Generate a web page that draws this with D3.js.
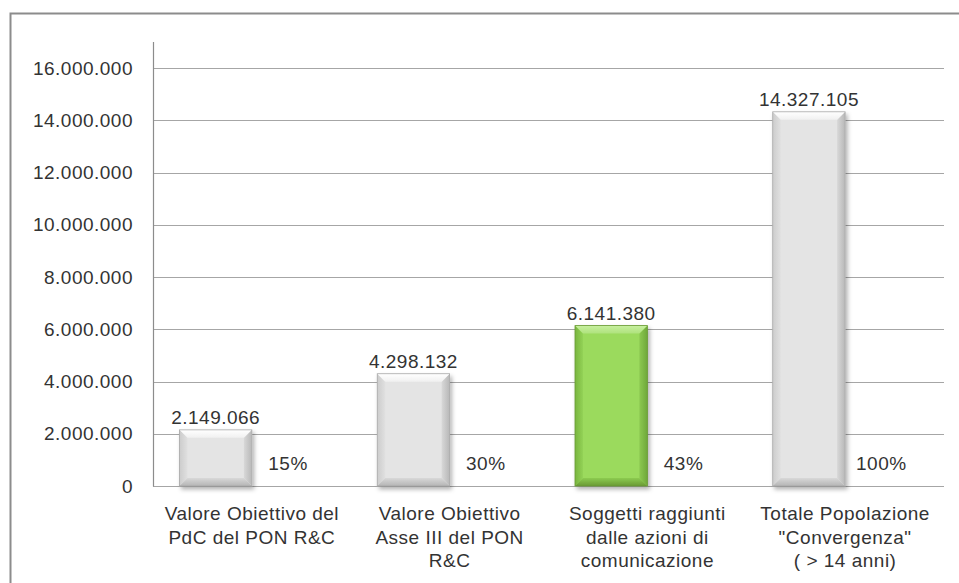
<!DOCTYPE html>
<html>
<head>
<meta charset="utf-8">
<script src="https://cdn.jsdelivr.net/npm/d3@7"></script>
<style>
  body { margin: 0; background: #fff; }
  svg { display: block; font-family: "Liberation Sans", Arial, sans-serif; }
  svg text { letter-spacing: 0.5px; }
</style>
</head>
<body>
<script>
// chart data
var categories = [
  ["Valore Obiettivo del", "PdC del PON R&C"],
  ["Valore Obiettivo", "Asse III del PON", "R&C"],
  ["Soggetti raggiunti", "dalle azioni di", "comunicazione"],
  ["Totale Popolazione", "\"Convergenza\"", "( > 14 anni)"]
];
var values = [2149066, 4298132, 6141380, 14327105];
var percents = ["15%", "30%", "43%", "100%"];
var highlighted = [false, false, true, false];
var yTicks = [0, 2000000, 4000000, 6000000, 8000000, 10000000, 12000000, 14000000, 16000000];

var width = 959, height = 583;
var margin = { left: 153, right: 15, top: 42, bottom: 97 };
var fontSize = 19;
var textColor = "#333";

var it = d3.formatLocale({ decimal: ",", thousands: ".", grouping: [3], currency: ["€", ""] });
var fmt = it.format(",d");

var svg = d3.select("body").append("svg")
  .attr("width", width)
  .attr("height", height);

var defs = svg.append("defs");
var shadow = defs.append("filter").attr("id", "shadow")
  .attr("x", "-20%").attr("y", "-20%").attr("width", "150%").attr("height", "150%");
shadow.append("feDropShadow")
  .attr("dx", 2).attr("dy", 3).attr("stdDeviation", 2)
  .attr("flood-color", "#000").attr("flood-opacity", 0.3);

// bevel palettes: [edge, inner] for each side
var palettes = {
  gray: { base: "#e4e4e4", top: ["#ffffff", "#f0f0f0"], bottom: ["#b5b5b5", "#d8d8d8"],
          left: ["#cccccc", "#e0e0e0"], right: ["#b8b8b8", "#d8d8d8"], edge: "#a9a9a9" },
  green: { base: "#9bda5d", top: ["#c8f0a0", "#aee27c"], bottom: ["#6a9a36", "#8ccb50"],
           left: ["#78b53e", "#93d256"], right: ["#6fa83a", "#8cc851"], edge: "#6a9a35" }
};

function gradient(id, dir, stops) {
  var g = defs.append("linearGradient").attr("id", id)
    .attr("x1", dir[0]).attr("y1", dir[1]).attr("x2", dir[2]).attr("y2", dir[3]);
  g.append("stop").attr("offset", "0%").attr("stop-color", stops[0]);
  g.append("stop").attr("offset", "100%").attr("stop-color", stops[1]);
}
Object.keys(palettes).forEach(function (k) {
  var p = palettes[k];
  gradient(k + "-top", [0, 0, 0, 1], p.top);
  gradient(k + "-bottom", [0, 1, 0, 0], p.bottom);
  gradient(k + "-left", [0, 0, 1, 0], p.left);
  gradient(k + "-right", [1, 0, 0, 0], p.right);
});

// outer frame (cut by the picture edge)
svg.append("rect")
  .attr("x", 10.5).attr("y", 13.5)
  .attr("width", 1000).attr("height", 1000)
  .attr("fill", "none")
  .attr("stroke", "#8c8c8c")
  .attr("stroke-width", 2);

var x = d3.scaleBand()
  .domain(d3.range(categories.length))
  .range([margin.left, width - margin.right]);

// two series per category: the value and its (invisible) percentage partner
var x1 = d3.scaleBand()
  .domain(["value", "pct"])
  .range([0, x.bandwidth()])
  .paddingInner(0)
  .paddingOuter(0.366);

var y = d3.scaleLinear()
  .domain([0, 17000000])
  .range([height - margin.bottom, margin.top]);

// gridlines
svg.append("g")
  .selectAll("line")
  .data(yTicks)
  .enter()
  .append("line")
  .attr("x1", margin.left)
  .attr("x2", width - margin.right)
  .attr("y1", function (d) { return Math.round(y(d)) + 0.5; })
  .attr("y2", function (d) { return Math.round(y(d)) + 0.5; })
  .attr("stroke", "#a6a6a6")
  .attr("stroke-width", 1.2);

// y axis line
svg.append("line")
  .attr("x1", margin.left + 0.5).attr("x2", margin.left + 0.5)
  .attr("y1", y.range()[1]).attr("y2", Math.round(y(0)) + 0.5)
  .attr("stroke", "#8c8c8c")
  .attr("stroke-width", 1.2);

// y tick labels
svg.append("g")
  .selectAll("text")
  .data(yTicks)
  .enter()
  .append("text")
  .attr("x", margin.left - 20)
  .attr("y", function (d) { return y(d); })
  .attr("dy", "0.35em")
  .attr("text-anchor", "end")
  .style("font-size", fontSize + "px")
  .style("fill", textColor)
  .text(function (d) { return fmt(d); });

// bars with a bevel look
var bevel = 8;
var bars = svg.append("g")
  .selectAll("g")
  .data(values)
  .enter()
  .append("g")
  .attr("filter", "url(#shadow)");

bars.each(function (d, i) {
  var g = d3.select(this);
  var x0 = x(i) + x1("value");
  var xr = x0 + x1.bandwidth();
  var y0 = y(d);
  var yb = y(0);
  var k = highlighted[i] ? "green" : "gray";
  var c = palettes[k];

  g.append("rect")
    .attr("x", x0).attr("y", y0)
    .attr("width", xr - x0).attr("height", yb - y0)
    .attr("fill", c.base);

  var poly = function (pts, fill) {
    g.append("polygon")
      .attr("points", pts.map(function (p) { return p.join(","); }).join(" "))
      .attr("fill", fill);
  };
  poly([[x0, y0], [x0 + bevel, y0 + bevel], [x0 + bevel, yb - bevel], [x0, yb]], "url(#" + k + "-left)");
  poly([[xr, y0], [xr - bevel, y0 + bevel], [xr - bevel, yb - bevel], [xr, yb]], "url(#" + k + "-right)");
  poly([[x0, y0], [xr, y0], [xr - bevel, y0 + bevel], [x0 + bevel, y0 + bevel]], "url(#" + k + "-top)");
  poly([[x0, yb], [xr, yb], [xr - bevel, yb - bevel], [x0 + bevel, yb - bevel]], "url(#" + k + "-bottom)");

  g.append("rect")
    .attr("x", x0).attr("y", y0)
    .attr("width", xr - x0).attr("height", yb - y0)
    .attr("fill", "none")
    .attr("stroke", c.edge)
    .attr("stroke-width", 0.8);
});

// value labels
svg.append("g")
  .selectAll("text")
  .data(values)
  .enter()
  .append("text")
  .attr("x", function (d, i) { return x(i) + x1("value") + x1.bandwidth() / 2; })
  .attr("y", function (d) { return y(d) - 6; })
  .attr("text-anchor", "middle")
  .style("font-size", fontSize + "px")
  .style("fill", textColor)
  .text(function (d) { return fmt(d); });

// percentage labels
svg.append("g")
  .selectAll("text")
  .data(percents)
  .enter()
  .append("text")
  .attr("x", function (d, i) { return x(i) + x1("pct") + x1.bandwidth() / 2; })
  .attr("y", y(0) - 16)
  .attr("text-anchor", "middle")
  .style("font-size", fontSize + "px")
  .style("fill", textColor)
  .text(function (d) { return d; });

// category labels
var cat = svg.append("g")
  .selectAll("text")
  .data(categories)
  .enter()
  .append("text")
  .attr("x", function (d, i) { return x(i) + x.bandwidth() / 2; })
  .attr("y", y(0) + 34)
  .attr("text-anchor", "middle")
  .style("font-size", fontSize + "px")
  .style("fill", textColor);

cat.selectAll("tspan")
  .data(function (d) { return d; })
  .enter()
  .append("tspan")
  .attr("x", function () { return d3.select(this.parentNode).attr("x"); })
  .attr("dy", function (d, i) { return i === 0 ? 0 : 23.5; })
  .text(function (d) { return d; });
</script>
</body>
</html>
